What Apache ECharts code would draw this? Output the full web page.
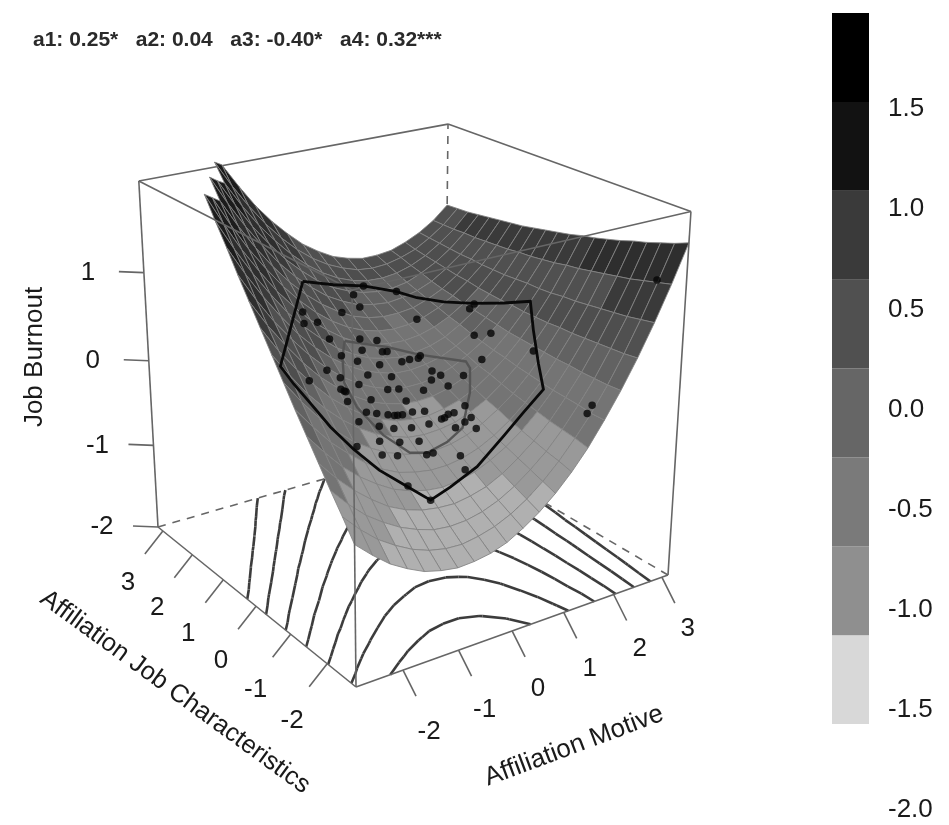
<!DOCTYPE html>
<html><head><meta charset="utf-8"><style>html,body{margin:0;background:#fff}#c{width:949px;height:825px}</style>
<script src="https://cdn.jsdelivr.net/npm/echarts@6/dist/echarts.min.js"></script></head><body><div id="c"></div>
<script>
// ---- data ----
const xLimits=[-2.82,3.13], yLimits=[-2.75,3.17], zLimits=[-2,2];
const xTicks=[-2,-1,0,1,2,3], yTicks=[-2,-1,0,1,2,3], zTicks=[-2,-1,0,1];
const header='a1: 0.25*   a2: 0.04   a3: -0.40*   a4: 0.32***';
const xTitle='Affiliation Motive', yTitle='Affiliation Job Characteristics', zTitle='Job Burnout';
// surface heights: rows run along Job Characteristics, columns along Motive
const surfaceZ=[
[-0.48,-0.65,-0.80,-0.91,-1.00,-1.05,-1.08,-1.07,-1.04,-0.98,-0.88,-0.76,-0.61,-0.43,-0.22,0.03,0.30,0.60,0.93,1.29,1.68],
[-0.28,-0.47,-0.63,-0.75,-0.85,-0.92,-0.96,-0.97,-0.94,-0.89,-0.81,-0.70,-0.56,-0.39,-0.19,0.03,0.29,0.58,0.90,1.25,1.62],
[-0.09,-0.29,-0.46,-0.59,-0.70,-0.78,-0.84,-0.86,-0.85,-0.81,-0.74,-0.64,-0.51,-0.36,-0.17,0.05,0.29,0.57,0.87,1.21,1.57],
[0.11,-0.10,-0.28,-0.43,-0.56,-0.65,-0.71,-0.74,-0.75,-0.72,-0.67,-0.58,-0.46,-0.32,-0.15,0.06,0.29,0.56,0.85,1.17,1.52],
[0.31,0.09,-0.11,-0.27,-0.40,-0.51,-0.58,-0.63,-0.65,-0.63,-0.59,-0.51,-0.41,-0.28,-0.12,0.07,0.30,0.55,0.83,1.14,1.48],
[0.51,0.28,0.07,-0.10,-0.25,-0.37,-0.46,-0.51,-0.54,-0.54,-0.51,-0.45,-0.36,-0.24,-0.09,0.09,0.30,0.54,0.81,1.11,1.43],
[0.72,0.47,0.25,0.06,-0.10,-0.22,-0.32,-0.39,-0.44,-0.45,-0.43,-0.38,-0.30,-0.19,-0.06,0.11,0.31,0.54,0.79,1.08,1.39],
[0.93,0.67,0.43,0.23,0.06,-0.08,-0.19,-0.27,-0.33,-0.35,-0.34,-0.31,-0.24,-0.15,-0.02,0.13,0.32,0.53,0.78,1.05,1.35],
[1.14,0.86,0.62,0.41,0.22,0.07,-0.06,-0.15,-0.22,-0.25,-0.26,-0.23,-0.18,-0.10,0.02,0.16,0.33,0.53,0.76,1.03,1.32],
[1.35,1.06,0.81,0.58,0.38,0.22,0.08,-0.03,-0.10,-0.15,-0.17,-0.16,-0.12,-0.05,0.05,0.18,0.34,0.53,0.75,1.00,1.28],
[1.56,1.26,0.99,0.76,0.55,0.37,0.22,0.10,0.01,-0.05,-0.08,-0.08,-0.05,0.01,0.10,0.21,0.36,0.54,0.75,0.98,1.25],
[1.78,1.47,1.19,0.94,0.71,0.52,0.36,0.23,0.13,0.06,0.01,-0.00,0.02,0.06,0.14,0.24,0.38,0.54,0.74,0.96,1.22],
[1.99,1.67,1.38,1.12,0.88,0.68,0.51,0.36,0.25,0.16,0.11,0.08,0.09,0.12,0.18,0.28,0.40,0.55,0.73,0.95,1.19],
[2.21,1.88,1.57,1.30,1.05,0.84,0.65,0.50,0.37,0.27,0.20,0.17,0.16,0.18,0.23,0.31,0.42,0.56,0.73,0.93,1.16],
[2.44,2.09,1.77,1.48,1.23,1.00,0.80,0.63,0.49,0.38,0.30,0.25,0.23,0.24,0.28,0.35,0.45,0.58,0.73,0.92,1.14],
[2.66,2.30,1.97,1.67,1.40,1.16,0.95,0.77,0.62,0.50,0.40,0.34,0.31,0.31,0.33,0.39,0.47,0.59,0.74,0.91,1.12],
[2.89,2.52,2.17,1.86,1.58,1.33,1.10,0.91,0.75,0.61,0.51,0.43,0.39,0.37,0.39,0.43,0.50,0.61,0.74,0.90,1.10],
[3.12,2.73,2.38,2.05,1.76,1.49,1.26,1.05,0.88,0.73,0.61,0.53,0.47,0.44,0.44,0.47,0.54,0.63,0.75,0.90,1.08],
[3.35,2.95,2.58,2.25,1.94,1.66,1.41,1.20,1.01,0.85,0.72,0.62,0.55,0.51,0.50,0.52,0.57,0.65,0.76,0.89,1.06],
[3.58,3.17,2.79,2.44,2.12,1.83,1.57,1.34,1.14,0.97,0.83,0.72,0.64,0.58,0.56,0.57,0.61,0.67,0.77,0.89,1.05],
[3.81,3.39,3.00,2.64,2.31,2.01,1.74,1.49,1.28,1.10,0.94,0.82,0.72,0.66,0.62,0.62,0.64,0.70,0.78,0.89,1.04]];
const contourLevels=[-0.8,-0.4,0,0.4,0.8,1.2,1.6];
const observations=[[-1.14,1.15],[-1.29,0.88],[-0.87,1.15],[-0.06,1.69],[0.45,1.93],[0.51,2.20],[-0.81,0.91],[-0.06,1.18],[0.27,1.18],[-0.18,0.94],
[-0.75,0.67],[0.21,0.94],[0.30,0.94],[-0.45,0.67],[-0.03,0.67],[0.42,0.70],[0.57,0.70],[0.72,0.67],[0.78,0.70],[1.23,1.42],
[-1.35,0.16],[-2.01,-0.38],[-1.11,0.16],[-0.42,0.43],[0.03,0.43],[0.75,0.34],[0.63,0.19],[0.81,0.19],[1.08,-0.05],[0.78,-0.05],
[-0.75,0.19],[-1.26,-0.08],[-1.20,-0.08],[-1.17,-0.08],[-1.26,-0.26],[-0.21,0.19],[0.00,0.19],[0.39,0.07],[-0.69,-0.05],[-0.03,-0.05],
[-0.96,-0.32],[-0.75,-0.29],[-0.54,-0.29],[-0.42,-0.29],[-0.36,-0.29],[-0.27,-0.29],[-0.06,-0.26],[0.15,-0.29],[0.30,-0.53],[0.36,-0.53],
[0.45,-0.50],[0.54,-0.53],[0.75,-0.53],[0.57,-0.77],[0.69,-0.77],[0.63,-0.98],[0.39,-0.77],[0.06,-0.53],[-0.27,-0.53],[-0.60,-0.53],
[-0.87,-0.53],[-1.26,-0.56],[-1.05,-0.80],[-0.66,-0.77],[-0.30,-0.77],[-1.62,-1.04],[-1.17,-1.04],[-0.87,-1.01],[-0.33,-1.01],[-0.21,-1.01],
[0.15,-1.22],[0.06,-1.46],[-1.02,-1.49],[1.92,0.91],[2.01,0.91],[1.65,0.43],[1.80,0.19],[1.44,-0.05],[1.89,-0.77],[1.35,2.17],
[0.87,2.44],[-0.78,-1.73],[2.85,-2.42],[1.71,-2.39],[1.62,-2.39]];
const outerHull=[[-0.60,1.99],[0.21,2.35],[0.87,2.44],[1.35,2.17],[1.53,1.84],[1.77,1.42],[2.01,0.94],[2.22,0.40],[2.37,-0.08],[2.10,-0.50],[1.80,-1.01],[1.59,-1.40],[1.23,-1.37],[0.84,-1.40],[0.24,-1.52],[-0.33,-1.61],[-0.78,-1.73],[-1.05,-1.49],[-1.41,-1.31],[-1.74,-1.13],[-2.04,-0.98],[-2.28,-0.83],[-2.52,-0.77],[-2.70,-0.71],[-1.77,0.49]];
const innerBag=[[-0.45,1.03],[0.36,1.03],[0.78,0.73],[1.26,0.13],[1.23,-0.02],[0.96,-0.38],[0.48,-0.83],[0.12,-0.92],[-0.30,-0.98],[-0.60,-0.95],[-0.90,-0.68],[-1.11,-0.29],[-1.08,0.10],[-0.75,0.64]];
const legendBreaks=[-2,-1.5,-1,-0.5,0,0.5,1,1.5,2];
const legendColors=['#d8d8d8','#8f8f8f','#7a7a7a','#666666','#505050','#3a3a3a','#121212','#000000'];
const surfaceBreaks=[-0.65,-0.2,0.28,0.5,0.72,0.98,1.2,1.7];
const surfaceColors=['#b0b0b0','#999999','#747474','#626262','#4e4e4e','#505050','#3a3a3a','#2e2e2e','#1c1c1c'];
const zClip=2.22;
const textColor='#1a1a1a', font26='26px "Liberation Sans"';

// ---- perspective view of the box ----
const view={front:[356,687],right:[668,575],left:[158,527],top:[352,290],kx:1.111,ky:1.175,kz:0.913};
function project(x,y,z){
  const u=(x-xLimits[0])/(xLimits[1]-xLimits[0]),v=(y-yLimits[0])/(yLimits[1]-yLimits[0]),w=(z-zLimits[0])/(zLimits[1]-zLimits[0]);
  const d=1+(view.kx-1)*u+(view.ky-1)*v+(view.kz-1)*w;
  return [0,1].map(k=>(view.front[k]+u*(view.kx*view.right[k]-view.front[k])+v*(view.ky*view.left[k]-view.front[k])+w*(view.kz*view.top[k]-view.front[k]))/d);
}
const nCols=surfaceZ[0].length,nRows=surfaceZ.length;
const gx=j=>xLimits[0]+j*(xLimits[1]-xLimits[0])/(nCols-1);
const gy=i=>yLimits[0]+i*(yLimits[1]-yLimits[0])/(nRows-1);
function zAt(x,y){
  const fj=Math.min((x-xLimits[0])/(xLimits[1]-xLimits[0])*(nCols-1),nCols-1.001),fi=Math.min((y-yLimits[0])/(yLimits[1]-yLimits[0])*(nRows-1),nRows-1.001);
  const j=Math.floor(fj),i=Math.floor(fi),s=fj-j,t=fi-i;
  return (1-t)*((1-s)*surfaceZ[i][j]+s*surfaceZ[i][j+1])+t*((1-s)*surfaceZ[i+1][j]+s*surfaceZ[i+1][j+1]);
}
const [x0,x1]=xLimits,[y0,y1]=yLimits,[z0,z1]=zLimits;
const boxStroke='#666666';
const hiddenDashed=[[[x0,y1,z0],[x1,y1,z0]],[[x1,y0,z0],[x1,y1,z0]],[[x1,y1,z0],[x1,y1,z1]]];
const hiddenSolid=[[[x0,y1,z1],[x1,y1,z1]],[[x1,y1,z1],[x1,y0,z1]]];
const frontEdges=[[[x0,y1,z1],[x0,y0,z1]],[[x0,y0,z1],[x1,y0,z1]],[[x0,y0,z0],[x0,y0,z1]],[[x1,y0,z0],[x1,y0,z1]],[[x0,y1,z0],[x0,y1,z1]],[[x0,y0,z0],[x1,y0,z0]],[[x0,y0,z0],[x0,y1,z0]]];

function contourSegments(){
  const segs=[];
  contourLevels.forEach(L=>{
    for(let i=0;i<nRows-1;i++)for(let j=0;j<nCols-1;j++){
      if(L===1.6&&j>10)continue; // the picture shows this level only on the left
      const c=[[j,i],[j+1,i],[j+1,i+1],[j,i+1]],hits=[];
      for(let k=0;k<4;k++){const a=c[k],b=c[(k+1)%4],za=surfaceZ[a[1]][a[0]],zb=surfaceZ[b[1]][b[0]];
        if((za<L)!==(zb<L)){const t=(L-za)/(zb-za);hits.push([gx(a[0]+t*(b[0]-a[0])),gy(a[1]+t*(b[1]-a[1])),z0]);}}
      if(hits.length>=2)segs.push([hits[0],hits[1]]);
      if(hits.length===4)segs.push([hits[2],hits[3]]);
    }
  });
  return segs;
}
function bandColor(z){let k=0;while(k<surfaceBreaks.length&&z>=surfaceBreaks[k])k++;return surfaceColors[k];}
const cells=[];
for(let i=nRows-2;i>=0;i--)for(let j=nCols-2;j>=0;j--){
  const c=[[j,i],[j+1,i],[j+1,i+1],[j,i+1]].filter(q=>surfaceZ[q[1]][q[0]]<=zClip);
  if(c.length>=3)cells.push(c);
}
const tickItems=[];
xTicks.forEach(t=>tickItems.push({a:[t,y0,z0],end:[13,26],lab:[26,62-2*(t+2)],text:String(t)}));
yTicks.forEach(t=>tickItems.push({a:[x0,t,z0],end:[-18,23],lab:[-35,57-1.1*(t+2)],text:String(t)}));
zTicks.forEach(t=>tickItems.push({a:[x0,y1,t],end:[-25,-1],lab:[-56,0],text:String(t)}));

function lineSeries(segments,style,z){
  return {type:'custom',coordinateSystem:'cartesian2d',xAxisIndex:0,yAxisIndex:0,z,silent:true,clip:false,
    data:segments.map((s,i)=>[i]),encode:{x:-1,y:-1},
    renderItem(p,api){const s=segments[p.dataIndex];
      const shape=s.map(q=>api.coord(project(q[0],q[1],q[2])));
      return {type:'polyline',shape:{points:shape},style:Object.assign({fill:null},style)};}};
}
const onSurface=l=>l.concat([l[0]]).map(q=>[q[0],q[1],zAt(q[0],q[1])]);
const legendIdx=legendColors.map((c,i)=>[i]);

const option={animation:false,backgroundColor:'#fff',
  title:{text:header,left:28,top:25,textStyle:{fontFamily:'Liberation Sans',fontSize:21,fontWeight:'bold',color:'#2a2a2a'}},
  grid:[{left:0,top:0,width:949,height:825},{left:832,top:13,width:37,height:711},{left:832,top:9,width:37,height:801}],
  xAxis:[{type:'value',min:0,max:949,show:false},{type:'value',gridIndex:1,min:0,max:1,show:false},{type:'value',gridIndex:2,min:0,max:1,show:false}],
  yAxis:[{type:'value',min:0,max:825,inverse:true,show:false},
    {type:'value',gridIndex:1,min:-2,max:2,show:false},
    {type:'value',gridIndex:2,min:-2,max:2,interval:0.5,position:'right',axisLine:{show:false},axisTick:{show:false},splitLine:{show:false},
     axisLabel:{show:true,margin:19,showMaxLabel:false,fontFamily:'Liberation Sans',fontSize:26,color:textColor,formatter:v=>v.toFixed(1)}}],
  graphic:[
    {type:'text',x:35,y:357,rotation:Math.PI/2,style:{text:zTitle,align:'center',verticalAlign:'middle',font:font26,fill:textColor}},
    {type:'text',x:574,y:746,rotation:0.358,style:{text:xTitle,align:'center',verticalAlign:'middle',font:font26,fill:textColor}},
    {type:'text',x:175,y:692,rotation:-0.63,style:{text:yTitle,align:'center',verticalAlign:'middle',font:'25.5px "Liberation Sans"',fill:textColor}}
  ],
  series:[
    {type:'custom',xAxisIndex:1,yAxisIndex:1,z:2,silent:true,data:legendIdx,encode:{x:-1,y:-1},
     renderItem(p,api){const i=p.dataIndex,a=api.coord([0,legendBreaks[i]]),b=api.coord([1,legendBreaks[i+1]]);
       return {type:'rect',shape:{x:a[0],y:b[1],width:b[0]-a[0],height:a[1]-b[1]},style:{fill:legendColors[i]}};}},
    lineSeries(contourSegments(),{stroke:'#3c3c3c',lineWidth:2.6},3),
    lineSeries(hiddenDashed,{stroke:boxStroke,lineWidth:1.6,lineDash:[8,7]},4),
    lineSeries(hiddenSolid,{stroke:boxStroke,lineWidth:1.6},4),
    {type:'custom',coordinateSystem:'cartesian2d',xAxisIndex:0,yAxisIndex:0,z:5,silent:true,clip:false,data:cells.map((c,i)=>[i]),encode:{x:-1,y:-1},
     renderItem(p,api){const c=cells[p.dataIndex];
       const pts=c.map(q=>api.coord(project(gx(q[0]),gy(q[1]),surfaceZ[q[1]][q[0]])));
       const m=c.reduce((s,q)=>s+surfaceZ[q[1]][q[0]],0)/c.length;
       return {type:'polygon',shape:{points:pts},style:{fill:bandColor(m),stroke:'rgba(130,130,130,0.85)',lineWidth:1}};}},
    lineSeries(frontEdges,{stroke:boxStroke,lineWidth:1.6},6),
    {type:'custom',coordinateSystem:'cartesian2d',xAxisIndex:0,yAxisIndex:0,z:6,silent:true,clip:false,data:tickItems.map((c,i)=>[i]),encode:{x:-1,y:-1},
     renderItem(p,api){const t=tickItems[p.dataIndex],b=api.coord(project(t.a[0],t.a[1],t.a[2]));
       return {type:'group',children:[
        {type:'line',shape:{x1:b[0],y1:b[1],x2:b[0]+t.end[0],y2:b[1]+t.end[1]},style:{stroke:boxStroke,lineWidth:1.6}},
        {type:'text',x:b[0]+t.lab[0],y:b[1]+t.lab[1],style:{text:t.text,align:'center',verticalAlign:'middle',font:font26,fill:textColor}}]};}},
    lineSeries([onSurface(innerBag)],{stroke:'#555555',lineWidth:2.4},7),
    lineSeries([onSurface(outerHull)],{stroke:'#0a0a0a',lineWidth:2.8},8),
    {type:'scatter',xAxisIndex:0,yAxisIndex:0,z:9,silent:true,symbol:'circle',symbolSize:7.5,itemStyle:{color:'#050505'},
     data:observations.map(q=>project(q[0],q[1],zAt(q[0],q[1])))}
  ]};
echarts.init(document.getElementById('c')).setOption(option);
</script></body></html>
